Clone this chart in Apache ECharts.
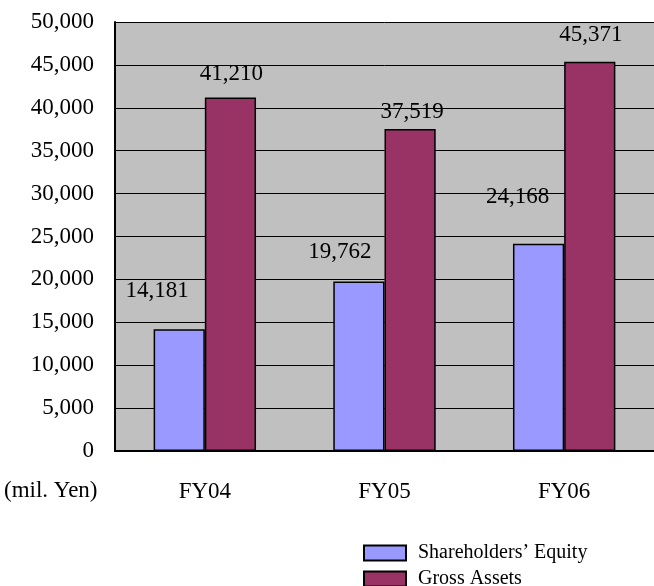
<!DOCTYPE html>
<html>
<head>
<meta charset="utf-8">
<script src="https://cdn.jsdelivr.net/npm/echarts@6/dist/echarts.min.js"></script>
<style>
  html, body { margin: 0; padding: 0; background: #fff; }
  #chart { width: 654px; height: 586px; }
</style>
</head>
<body>
<div id="chart"></div>
<script>
// data
const categories = ["FY04", "FY05", "FY06"];
const equity = [14181, 19762, 24168];
const grossAssets = [41210, 37519, 45371];

// label nudges (the original labels were dragged by hand)
const equityLabelShift = [[-22, -22], [-19, -13], [-21, -30]];
const assetsLabelShift = [[1, -7], [2, -1], [1, -10]];

const font = "'Liberation Serif', 'Times New Roman', serif";
const EQ = "Shareholders\u2019 Equity";
const GA = "Gross Assets";

const withLabels = (vals, shifts) =>
  vals.map((v, i) => ({ value: v, label: { offset: shifts[i] } }));

const legendBox = (name, top) => ({
  orient: "vertical",
  left: 358,
  top: top,
  icon: "rect",
  itemWidth: 42,
  itemHeight: 15,
  textStyle: { fontFamily: font, fontSize: 20, color: "#000", padding: [0, 0, 0, 7] },
  data: [name],
});

const barLabel = {
  show: true,
  position: "top",
  color: "#000",
  fontSize: 23,
  fontFamily: font,
  formatter: p => p.value.toLocaleString("en-US"),
};

const option = {
  animation: false,
  textStyle: { fontFamily: font },
  grid: { left: 115, top: 22, width: 542, height: 429, backgroundColor: "#C0C0C0", show: true, borderWidth: 0 },
  legend: [legendBox(EQ, 538), legendBox(GA, 564)],
  graphic: [
    { type: "text", left: 4, top: 479, style: { text: "(mil. Yen)", font: "23px " + font, fill: "#000" } },
  ],
  xAxis: {
    type: "category",
    data: categories,
    axisLine: { lineStyle: { color: "#000", width: 2 } },
    axisTick: { inside: true, length: 8, lineStyle: { color: "#000" } },
    axisLabel: { color: "#000", fontSize: 23, fontFamily: font, margin: 29 },
  },
  yAxis: {
    type: "value",
    min: 0,
    max: 50000,
    interval: 5000,
    axisLine: { show: true, lineStyle: { color: "#000", width: 2 } },
    axisTick: { show: true, inside: true, length: 7, lineStyle: { color: "#000" } },
    axisLabel: {
      color: "#000",
      fontSize: 23,
      fontFamily: font,
      margin: 21,
      padding: [3, 0, 0, 0],
      formatter: v => v.toLocaleString("en-US"),
    },
    splitLine: { lineStyle: { color: "#000", width: 1 } },
  },
  series: [
    {
      name: EQ,
      type: "bar",
      barGap: "0%",
      barCategoryGap: "43%",
      data: withLabels(equity, equityLabelShift),
      itemStyle: { color: "#9999FF", borderColor: "#000", borderWidth: 1.5 },
      label: barLabel,
    },
    {
      name: GA,
      type: "bar",
      data: withLabels(grossAssets, assetsLabelShift),
      itemStyle: { color: "#993366", borderColor: "#000", borderWidth: 1.5 },
      label: barLabel,
    },
  ],
};

const myChart = echarts.init(document.getElementById("chart"));
myChart.setOption(option);
</script>
</body>
</html>
